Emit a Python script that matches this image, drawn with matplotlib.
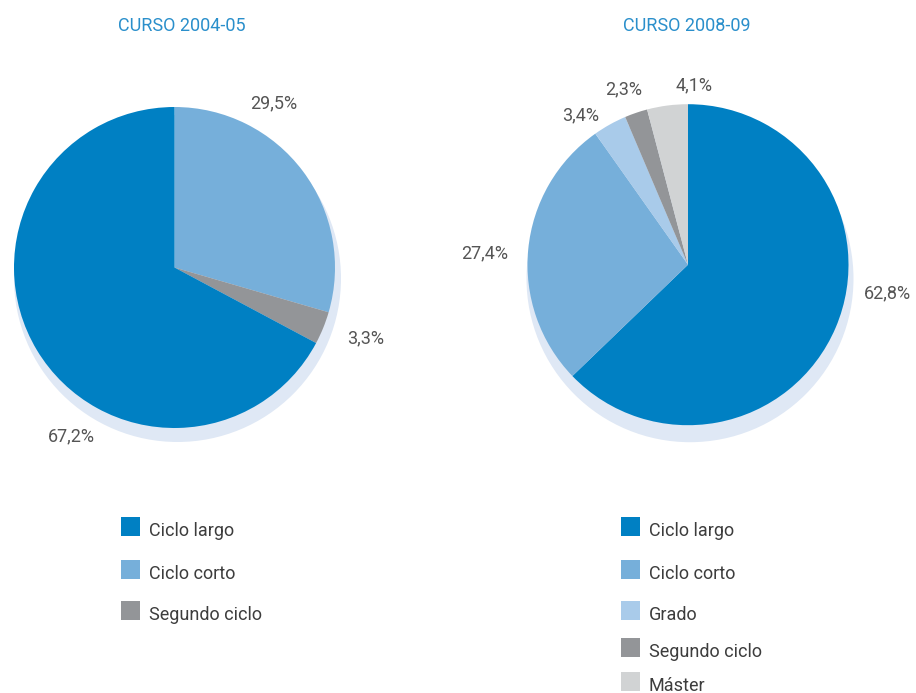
import matplotlib.pyplot as plt
from matplotlib.patches import Circle, Rectangle

plt.rcParams['font.family'] = ['Roboto', 'DejaVu Sans']

W, H = 916, 693

# data
titles = ['CURSO 2004-05', 'CURSO 2008-09']

cats_0405 = ['Ciclo corto', 'Segundo ciclo', 'Ciclo largo']
vals_0405 = [29.5, 3.3, 67.2]

cats_0809 = ['Ciclo largo', 'Ciclo corto', 'Grado', 'Segundo ciclo', 'Máster']
vals_0809 = [62.8, 27.4, 3.4, 2.3, 4.1]

legend_0405 = ['Ciclo largo', 'Ciclo corto', 'Segundo ciclo']
legend_0809 = ['Ciclo largo', 'Ciclo corto', 'Grado', 'Segundo ciclo', 'Máster']

colors = {
    'Ciclo largo': '#0080c3',
    'Ciclo corto': '#76afda',
    'Grado': '#a9cbea',
    'Segundo ciclo': '#939598',
    'Máster': '#d1d3d4',
}
shadow_color = '#dfe8f5'
title_color = '#2a8fcb'
label_color = '#555555'
legend_color = '#3d3d3d'

# layout (pixels from top-left), label offsets in pie radii
R = 160.5
pies = [
    dict(cats=cats_0405, vals=vals_0405, center=(174.5, 267.5), title_x=182,
         shadow=(3, 11, 3),
         label_pos=[(0.62, 1.02), (1.19, -0.44), (-0.64, -1.05)],
         legend=legend_0405, legend_x=121, legend_y=[517, 560, 601]),
    dict(cats=cats_0809, vals=vals_0809, center=(688, 264.7), title_x=687,
         shadow=(2, 14, 3),
         label_pos=[(1.24, -0.18), (-1.27, 0.07), (-0.67, 0.93),
                    (-0.40, 1.09), (0.04, 1.12)],
         legend=legend_0809, legend_x=621, legend_y=[517, 560, 601, 638, 672]),
]

fig = plt.figure(figsize=(W / 100, H / 100), dpi=100)

def fx(x):
    return x / W

def fy(y):
    return 1 - y / H

for p, title in zip(pies, titles):
    cx, cy = p['center']
    ax = fig.add_axes([fx(cx - R), fy(cy + R), 2 * R / W, 2 * R / H])
    ax.set_xlim(-1, 1)
    ax.set_ylim(-1, 1)
    ax.axis('off')

    sx, sy, sr = p['shadow']
    ax.add_patch(Circle((sx / R, -sy / R), 1 + sr / R, color=shadow_color,
                        lw=0, zorder=0, clip_on=False))

    wedges, _ = ax.pie(p['vals'], colors=[colors[c] for c in p['cats']],
                       startangle=90, counterclock=False, radius=1,
                       wedgeprops=dict(linewidth=0))
    for w in wedges:
        w.set_zorder(1)
        w.set_clip_on(False)
    ax.set_xlim(-1, 1)
    ax.set_ylim(-1, 1)

    for v, (lx, ly) in zip(p['vals'], p['label_pos']):
        ax.text(lx, ly, f'{v:.1f}%'.replace('.', ','), ha='center',
                va='center', fontsize=13, color=label_color, clip_on=False)

    fig.text(fx(p['title_x']), fy(26), title, ha='center', va='center',
             fontsize=13, color=title_color)

    # legend swatches and names
    lx0 = p['legend_x']
    for name, top in zip(p['legend'], p['legend_y']):
        fig.add_artist(Rectangle((fx(lx0), fy(top + 19)), 19 / W, 19 / H,
                                 transform=fig.transFigure,
                                 color=colors[name], lw=0))
        fig.text(fx(lx0 + 28), fy(top + 19), name, ha='left',
                 va='baseline', fontsize=13, color=legend_color)

fig.savefig('out.png', dpi=100)
